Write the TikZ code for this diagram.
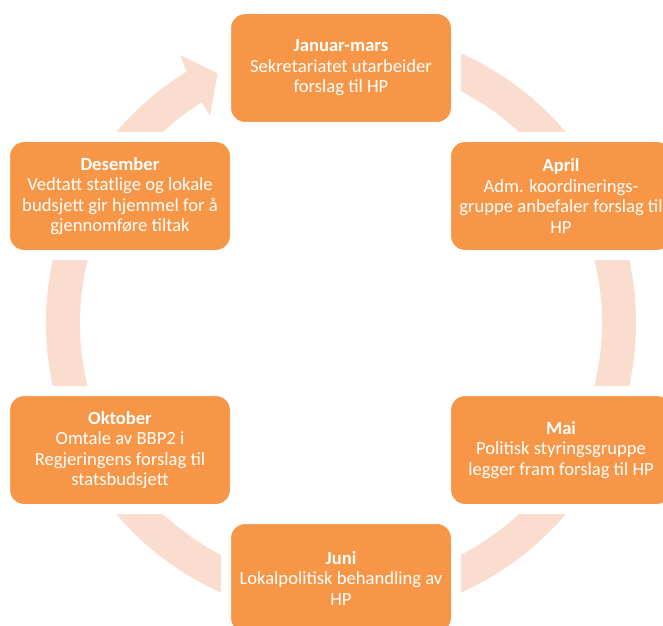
\documentclass[tikz,border=0pt]{standalone}
\usepackage{fontspec}
\setmainfont{Carlito}
\definecolor{boxor}{RGB}{247,150,70}
\definecolor{ringc}{RGB}{251,221,208}
\begin{document}
\begin{tikzpicture}[x=1pt,y=1pt,
  box/.style={rectangle, rounded corners=19pt, fill=boxor, draw=white, line width=10pt,
    minimum width=230pt, minimum height=118pt, inner sep=0pt, text=white, align=center,
    font=\fontsize{18.6}{20.5}\selectfont}]
\useasboundingbox (0,0) rectangle (663,625);
\coordinate (c) at (341,302);
\fill[ringc] ([shift={(80:295)}]c) arc[start angle=80, end angle=-238.45, radius=295]
  -- ([shift={(121:312.6)}]c) -- ([shift={(116.3:278.5)}]c) -- ([shift={(122.3:245)}]c)
  -- ([shift={(-237.8:261)}]c) arc[start angle=-237.8, end angle=80, radius=261] -- cycle;
\node[box] (jan) at (341,557) {\textbf{Januar-mars}\\Sekretariatet utarbeider\\forslag til HP};
\node[box] (apr) at (561,429) {\textbf{April}\\Adm. koordinerings-\\gruppe anbefaler forslag til\\HP};
\node[box] (mai) at (561,175) {\textbf{Mai}\\Politisk styringsgruppe\\legger fram forslag til HP};
\node[box] (jun) at (341,47) {\textbf{Juni}\\Lokalpolitisk behandling av\\HP};
\node[box] (okt) at (120,175) {\textbf{Oktober}\\Omtale av BBP2 i\\Regjeringens forslag til\\statsbudsjett};
\node[box] (des) at (120,429) {\textbf{Desember}\\Vedtatt statlige og lokale\\budsjett gir hjemmel for å\\gjennomføre tiltak};
\end{tikzpicture}
\end{document}
